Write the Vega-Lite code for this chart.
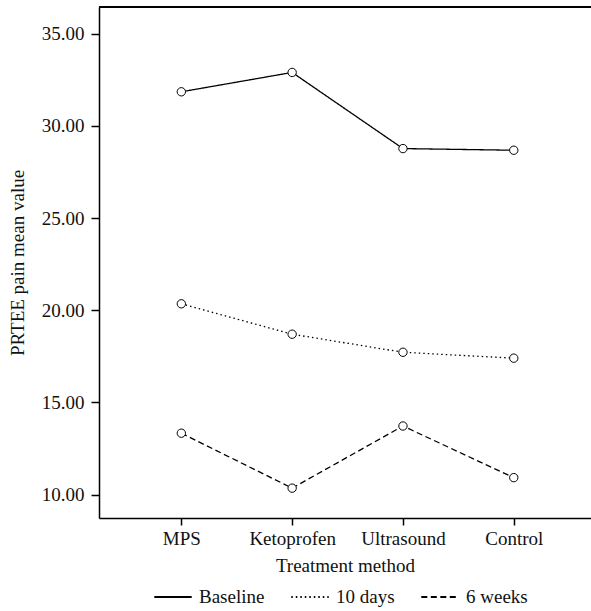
{
  "$schema": "https://vega.github.io/schema/vega-lite/v6.json",
  "width": 492,
  "height": 511,
  "autosize": {"type": "none"},
  "padding": {"left": 99, "top": 7, "right": 0, "bottom": 93},
  "background": "white",
  "config": {
    "view": {"stroke": null},
    "font": "Liberation Serif",
    "axis": {
      "labelFont": "Liberation Serif",
      "titleFont": "Liberation Serif",
      "labelFontSize": 19,
      "titleFontSize": 19,
      "titleFontWeight": "normal",
      "labelColor": "#111",
      "titleColor": "#111",
      "domainColor": "black",
      "domainWidth": 1.5,
      "tickColor": "black",
      "tickWidth": 1.5,
      "grid": false
    },
    "legend": {
      "labelFont": "Liberation Serif",
      "labelFontSize": 19,
      "labelColor": "#111"
    }
  },
  "data": {
    "values": [
      {"method": "MPS", "time": "Baseline", "value": 31.85},
      {"method": "Ketoprofen", "time": "Baseline", "value": 32.9},
      {"method": "Ultrasound", "time": "Baseline", "value": 28.77},
      {"method": "Control", "time": "Baseline", "value": 28.68},
      {"method": "MPS", "time": "10 days", "value": 20.35},
      {"method": "Ketoprofen", "time": "10 days", "value": 18.7},
      {"method": "Ultrasound", "time": "10 days", "value": 17.72},
      {"method": "Control", "time": "10 days", "value": 17.4},
      {"method": "MPS", "time": "6 weeks", "value": 13.33},
      {"method": "Ketoprofen", "time": "6 weeks", "value": 10.35},
      {"method": "Ultrasound", "time": "6 weeks", "value": 13.72},
      {"method": "Control", "time": "6 weeks", "value": 10.92}
    ]
  },
  "encoding": {
    "x": {
      "field": "method",
      "type": "nominal",
      "sort": ["MPS", "Ketoprofen", "Ultrasound", "Control"],
      "scale": {"type": "point", "padding": 0.72, "align": 0.516},
      "axis": {"title": "Treatment method", "labelAngle": 0, "tickSize": 7, "labelPadding": 4, "titlePadding": 8}
    },
    "y": {
      "field": "value",
      "type": "quantitative",
      "scale": {"domain": [8.73, 36.45], "nice": false, "zero": false},
      "axis": {"title": "PRTEE pain mean value", "values": [10, 15, 20, 25, 30, 35], "format": ".2f", "tickSize": 8, "labelPadding": 7, "titlePadding": 14}
    }
  },
  "layer": [
    {
      "mark": {"type": "rule", "color": "black", "strokeWidth": 1.5},
      "encoding": {"y": {"datum": 36.45}, "x": null}
    },
    {
      "mark": {"type": "line", "color": "black", "strokeWidth": 1.3},
      "encoding": {
        "strokeDash": {
          "field": "time",
          "type": "nominal",
          "scale": {"domain": ["Baseline", "10 days", "6 weeks"], "range": [[1, 0], [1.5, 3], [6, 3.5]]},
          "legend": {
            "title": null,
            "orient": "none",
            "legendX": 54,
            "legendY": 570,
            "direction": "horizontal",
            "symbolType": "stroke",
            "symbolSize": 1400,
            "symbolStrokeWidth": 2,
            "symbolStrokeColor": "black",
            "labelOffset": 6,
            "columnPadding": 22
          }
        }
      }
    },
    {
      "mark": {"type": "point", "filled": true, "fill": "white", "stroke": "black", "strokeWidth": 1, "size": 70, "opacity": 1},
      "encoding": {"detail": {"field": "time", "type": "nominal"}}
    }
  ]
}
